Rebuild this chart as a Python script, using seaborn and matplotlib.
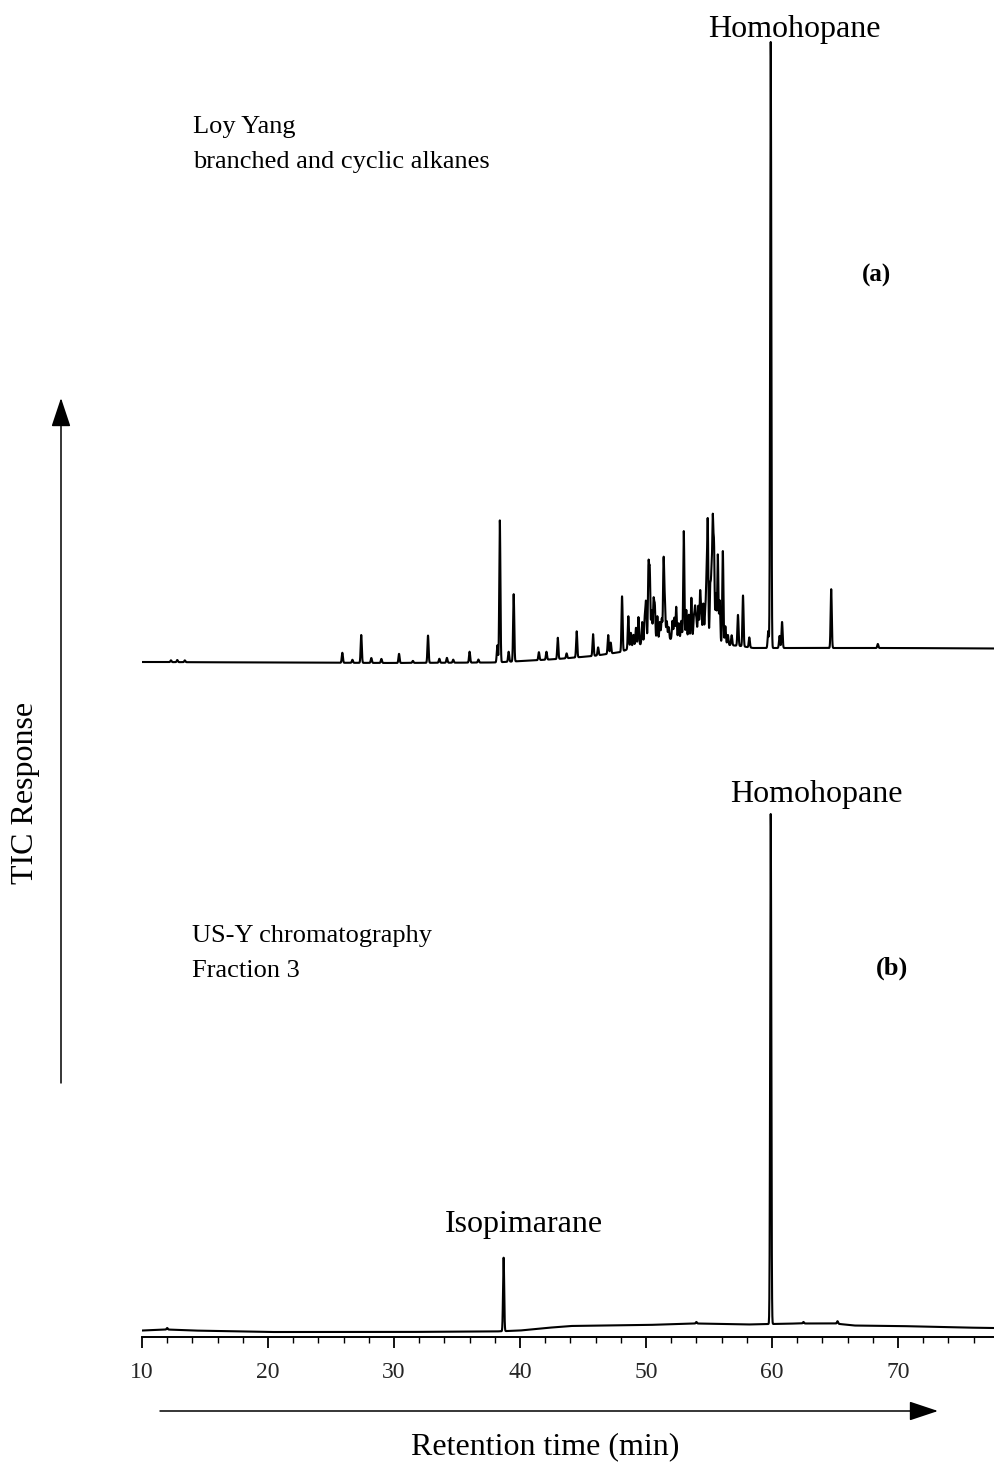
import numpy as np
import pandas as pd
import matplotlib
matplotlib.use("Agg")
import matplotlib.pyplot as plt
import seaborn as sns
from matplotlib.patches import FancyArrowPatch

sns.set_theme(style="white")
plt.rcParams['font.family'] = ['Liberation Serif', 'DejaVu Serif']

# ---------------------------------------------------------------------------
# Panel (a): Loy Yang, branched and cyclic alkanes
# peak retention times (min) and heights above baseline (% of homohopane)
rt_a = [12.3, 12.8, 13.4, 25.9, 26.7, 27.4, 28.2, 29.0, 30.4, 31.5, 32.7, 33.6,
        34.2, 34.7, 36.0, 36.7, 38.2, 38.4, 39.1, 39.5, 41.5, 42.1, 43.0, 43.7,
        44.5, 45.8, 46.2, 47.0, 47.2, 48.1, 48.6, 48.8, 49.0, 49.2, 49.4, 49.7,
        49.9, 50.0, 50.2, 50.3, 50.45, 50.6, 50.7, 50.9, 51.1, 51.25, 51.4, 51.5,
        51.65, 51.8, 52.1, 52.25, 52.4, 52.6, 52.8, 53.0, 53.2, 53.4, 53.6, 53.8,
        53.9, 54.0, 54.15, 54.3, 54.4, 54.55, 54.7, 54.8, 54.9, 55.1, 55.2, 55.3,
        55.4, 55.55, 55.7, 55.85, 56.1, 56.3, 56.5, 56.8, 57.3, 57.7, 58.2, 59.7,
        59.9, 60.6, 60.8, 64.7, 68.4]
h_a = [0.3, 0.35, 0.3, 1.65, 0.5, 4.6, 0.8, 0.66, 1.5, 0.33, 4.5, 0.66,
       0.8, 0.5, 1.8, 0.5, 2.8, 23.4, 1.65, 11.1, 1.3, 1.3, 3.5, 0.8,
       4.3, 3.6, 1.3, 3.1, 1.8, 9.1, 5.4, 2.5, 2.0, 3.0, 4.6, 3.6,
       4.0, 6.6, 12.4, 11.2, 5.0, 6.6, 5.6, 4.0, 3.0, 3.5, 13.2, 5.9,
       3.0, 2.0, 3.0, 3.5, 5.3, 2.6, 3.0, 17.8, 4.8, 4.0, 6.8, 3.5,
       5.0, 3.1, 5.5, 7.8, 4.1, 6.0, 4.5, 9.0, 19.5, 8.7, 10.0, 19.0,
       15.0, 8.0, 14.5, 7.0, 15.3, 3.0, 1.65, 1.65, 5.1, 8.4, 1.65, 2.8,
       100.0, 2.0, 4.3, 9.7, 0.66]
# unresolved-complex baseline (knots: min, level)
base_t_a = [10, 20, 30, 38, 41.6, 43, 45.8, 48, 49.4, 50.5, 52, 54, 55.5,
            56.5, 57.5, 58.5, 70, 77.7]
base_v_a = [1.65, 1.57, 1.49, 1.57, 1.98, 2.15, 2.64, 3.30, 4.46, 5.12, 5.45,
            5.45, 4.95, 4.46, 4.29, 3.96, 3.96, 3.88]

# Panel (b): US-Y chromatography, fraction 3
rt_b = [12.0, 38.7, 54.0, 59.9, 62.5, 65.2]
h_b = [0.3, 14.4, 0.3, 100.0, 0.3, 0.5]
base_t_b = [10, 12, 14, 20, 30, 38, 40, 42, 44, 50, 54, 58, 62, 65, 66.5, 70,
            75, 77.7]
base_v_b = [1.27, 1.47, 1.27, 0.98, 0.98, 1.08, 1.27, 1.76, 2.16, 2.35, 2.65,
            2.45, 2.65, 2.65, 2.25, 2.16, 1.86, 1.76]

x_ticks = [10, 20, 30, 40, 50, 60, 70]
x_ticklabels = ["10", "20", "30", "40", "50", "60", "70"]
XMIN, XMAX = 10, 77.7
PEAK_SIGMA = 0.045


def trace(rt, h, bt, bv):
    t = np.arange(XMIN, XMAX + 0.005, 0.01)
    y = np.interp(t, bt, bv)
    for r, a in zip(rt, h):
        y = y + a * np.exp(-0.5 * ((t - r) / PEAK_SIGMA) ** 2)
    return pd.DataFrame({"time": t, "response": y})


df_a = trace(rt_a, h_a, base_t_a, base_v_a)
df_b = trace(rt_b, h_b, base_t_b, base_v_b)

W, H = 995, 1465
fig = plt.figure(figsize=(W / 100, H / 100), dpi=100)
fig.patch.set_facecolor("white")

left, width = 142 / W, 853 / W
ax_a = fig.add_axes([left, (H - 672) / H, width, 642 / H])
ax_b = fig.add_axes([left, (H - 1337) / H, width, 537 / H])

line_kw = dict(color="black", linewidth=1.5, estimator=None, sort=False)
sns.lineplot(data=df_a, x="time", y="response", ax=ax_a, **line_kw)
sns.lineplot(data=df_b, x="time", y="response", ax=ax_b, **line_kw)

ax_a.set_xlim(XMIN, XMAX)
ax_a.set_ylim(0, 642 / 6.06)
ax_b.set_xlim(XMIN, XMAX)
ax_b.set_ylim(0, 537 / 5.1)

for ax in (ax_a, ax_b):
    ax.set_facecolor("none")
    ax.set_xlabel("")
    ax.set_ylabel("")
    ax.set_yticks([])

sns.despine(ax=ax_a, left=True, bottom=True)
ax_a.set_xticks([])

sns.despine(ax=ax_b, left=True)
ax_b.spines["bottom"].set_linewidth(1.4)
ax_b.spines["bottom"].set_color("black")
ax_b.set_xticks(x_ticks)
ax_b.set_xticklabels(x_ticklabels)
ax_b.set_xticks(np.arange(12, 78, 2), minor=True)
ax_b.tick_params(axis="x", which="major", direction="out", length=8, width=1.3,
                 color="black", labelsize=17, pad=10, bottom=True)
ax_b.tick_params(axis="x", which="minor", direction="out", length=4, width=1.0,
                 color="black", bottom=True)

txt = dict(color="black", clip_on=False)
# Panel (a) annotations
ax_a.text(61.8, 104.8, "Homohopane", fontsize=23, ha="center", va="baseline", **txt)
ax_a.text(14.05, 88.9, "Loy Yang", fontsize=19, ha="left", va="baseline", **txt)
ax_a.text(14.05, 83.2, "branched and cyclic alkanes", fontsize=19, ha="left",
          va="baseline", **txt)
ax_a.text(67.1, 64.5, "(a)", fontsize=18, fontweight="bold", ha="left",
          va="baseline", **txt)
# Panel (b) annotations
ax_b.text(63.5, 104.96, "Homohopane", fontsize=23, ha="center", va="baseline", **txt)
ax_b.text(40.3, 20.6, "Isopimarane", fontsize=23, ha="center", va="baseline", **txt)
ax_b.text(13.97, 77.5, "US-Y chromatography", fontsize=19, ha="left",
          va="baseline", **txt)
ax_b.text(13.97, 70.6, "Fraction 3", fontsize=19, ha="left", va="baseline", **txt)
ax_b.text(68.25, 71.0, "(b)", fontsize=19, fontweight="bold", ha="left",
          va="baseline", **txt)


def fig_xy(px, py):
    return (px / W, (H - py) / H)


arrow_kw = dict(transform=fig.transFigure, color="black", linewidth=1.1,
                arrowstyle="-|>,head_length=0.9,head_width=0.3",
                mutation_scale=20, shrinkA=0, shrinkB=0)
fig.add_artist(FancyArrowPatch(fig_xy(61, 1083), fig_xy(61, 398), **arrow_kw))
fig.add_artist(FancyArrowPatch(fig_xy(160, 1411), fig_xy(938, 1411), **arrow_kw))

fig.text(*fig_xy(26, 793), "TIC Response", rotation=90, fontsize=23,
         ha="center", va="center", color="black")
fig.text(*fig_xy(545, 1447), "Retention time (min)", fontsize=23,
         ha="center", va="center", color="black")

fig.savefig("out.png", dpi=100, facecolor="white")
